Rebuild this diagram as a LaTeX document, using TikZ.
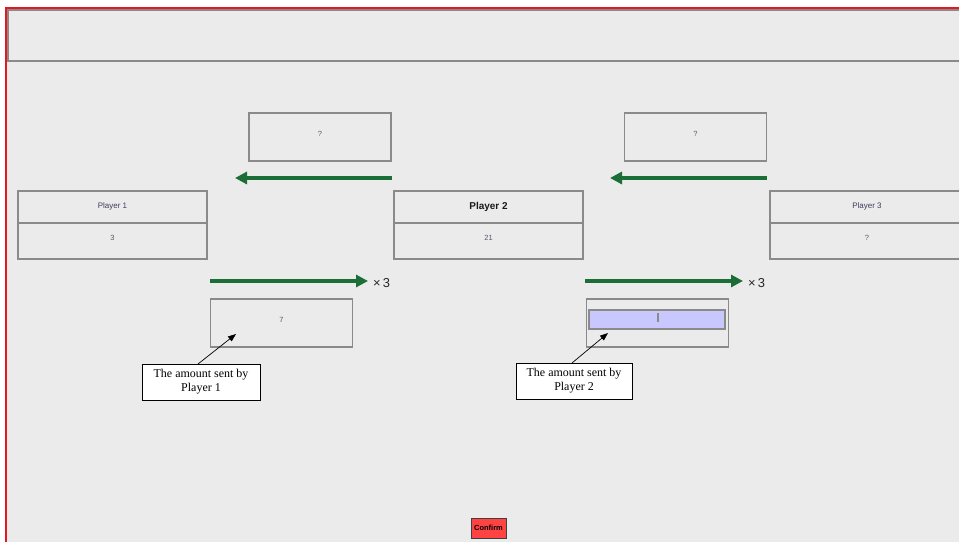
\documentclass[tikz,border=0pt]{standalone}
\usepackage{fontspec}
\setmainfont{Liberation Serif}
\newfontfamily\uifont{Liberation Sans}
\usetikzlibrary{arrows.meta,positioning}

\definecolor{panelgray}{HTML}{EBEBEB}
\definecolor{linegray}{HTML}{8A8A8A}
\definecolor{sendgreen}{HTML}{1B6E36}
\definecolor{framered}{HTML}{E8161E}
\definecolor{labelpurple}{HTML}{45395C}
\definecolor{valuegray}{HTML}{5C5470}
\definecolor{fieldblue}{HTML}{C8C8FF}
\definecolor{btnred}{HTML}{FF4343}

\begin{document}
\begin{tikzpicture}[x=1bp,y=-1bp,node distance=0pt,
    amount/.style={draw=linegray,line width=1.1bp,minimum width=142bp,minimum height=48bp,
      inner sep=0pt,outer sep=0pt,text depth=6bp,font=\uifont\fontsize{7.5}{8}\selectfont,text=valuegray},
    player/.style={draw=linegray,line width=1.1bp,minimum width=189bp,minimum height=32bp,
      inner sep=0pt,outer sep=0pt,text depth=3bp,font=\uifont\fontsize{8}{9}\selectfont,text=labelpurple},
    holding/.style={player,minimum height=36bp,text depth=6bp,font=\uifont\fontsize{7.5}{8}\selectfont,text=valuegray},
    callout/.style={draw=black,fill=white,line width=0.8bp,minimum height=36bp,inner sep=0pt,outer sep=0pt,
      align=center,font=\fontsize{12}{14}\selectfont},
    send/.style={sendgreen,line width=4bp,-{Triangle[length=12bp,width=12bp]}},
    point/.style={black,line width=0.7bp,-{Triangle[length=8bp,width=6bp]}},
    times/.style={inner sep=0pt,font=\uifont\fontsize{13}{13}\selectfont,text=black!85}]

  % screen and frame
  \useasboundingbox (0,0) rectangle (959,542);
  \fill[white] (0,0) rectangle (959,542);
  \fill[panelgray] (6,8) rectangle (959,542);
  \draw[framered,line width=2bp] (6,542) -- (6,8) -- (959,8);
  \draw[linegray,line width=1.1bp] (959,10) -- (8,10) -- (8,61) -- (959,61);

  % players
  \node[player]                   (p1)  at (112.5,207) {Player 1};
  \node[holding]                  (p1v) [below=of p1]  {3};
  \node[player,font=\uifont\bfseries\fontsize{10}{11}\selectfont,text=black!90]
                                  (p2)  [right=187bp of p1] {Player 2};
  \node[holding]                  (p2v) [below=of p2]  {21};
  \node[player,minimum width=194bp] (p3) [right=187bp of p2] {Player 3};
  \node[holding,minimum width=194bp] (p3v) [below=of p3] {?};

  % returned amounts
  \node[amount] (r1) at (320,137)   {?};
  \node[amount] (r2) at (695.5,137) {?};

  % sent amounts
  \node[amount] (s1) at (281.5,323) {7};
  \node[amount,text depth=0pt] (s2) [right=234bp of s1] {};
  \node[draw=linegray,fill=fieldblue,line width=1.1bp,minimum width=136bp,minimum height=19bp,inner sep=0pt]
        (f2) at (657,319.5) {};
  \draw[linegray,line width=1.2bp] (658,313) -- (658,322);

  % arrows
  \coordinate (a1s) at (392,178);  \coordinate (a1e) at (235,178);
  \coordinate (a2s) at (767,178);  \coordinate (a2e) at (610,178);
  \coordinate (b1s) at (210,281);  \coordinate (b1e) at (368,281);
  \coordinate (b2s) at (585,281);  \coordinate (b2e) at (743,281);
  \draw[send] (a1s) -- (a1e);
  \draw[send] (a2s) -- (a2e);
  \draw[send] (b1s) -- (b1e);
  \draw[send] (b2s) -- (b2e);
  \node[times] (x1) [right=5bp of b1e, yshift=-2bp] {×\,3};
  \node[times] (x2) [right=5bp of b2e, yshift=-2bp] {×\,3};

  % callouts
  \node[callout,minimum width=118bp] (c1) at (201,382) {The amount sent by\\Player 1};
  \node[callout,minimum width=116bp] (c2) at (574,381) {The amount sent by\\Player 2};
  \coordinate (t1) at (236,334);
  \coordinate (t2) at (608,333);
  \draw[point] ([xshift=-3bp]c1.north) -- (t1);
  \draw[point] ([xshift=-2bp]c2.north) -- (t2);

  % button
  \node[draw=black!75,fill=btnred,line width=1bp,minimum width=35bp,minimum height=20bp,inner sep=0pt,
        font=\uifont\bfseries\fontsize{7.5}{8}\selectfont] (confirm) at (488.5,528) {Confirm};
\end{tikzpicture}
\end{document}
